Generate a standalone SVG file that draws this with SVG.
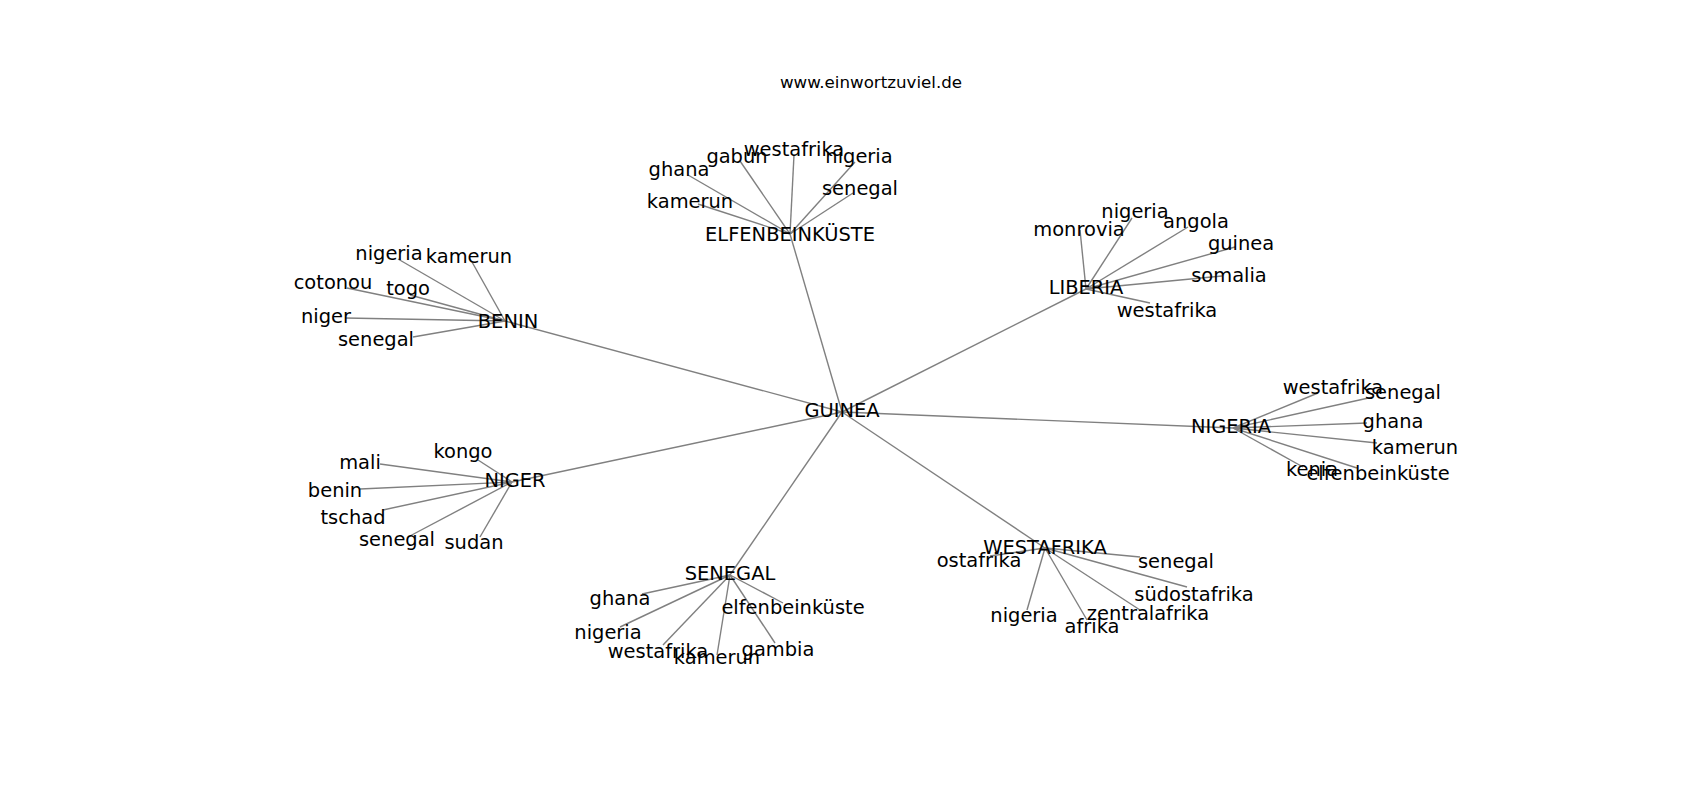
<svg xmlns="http://www.w3.org/2000/svg" width="1700" height="800" viewBox="0 0 1700 800">
<style>
.e{stroke:#808080;stroke-width:1.4;fill:none}
text{font-family:"DejaVu Sans",sans-serif;font-size:19.44px;fill:#000;text-anchor:middle}
.t{font-size:16.67px}
</style>
<rect width="1700" height="800" fill="#fff"/>
<text class="t" x="871" y="88">www.einwortzuviel.de</text>
<g id="edges">
<line class="e" x1="842" y1="412" x2="790" y2="234"/>
<line class="e" x1="842" y1="412" x2="505" y2="321"/>
<line class="e" x1="842" y1="412" x2="1086" y2="289"/>
<line class="e" x1="842" y1="412" x2="1233" y2="428"/>
<line class="e" x1="842" y1="412" x2="512" y2="482"/>
<line class="e" x1="842" y1="412" x2="730" y2="575"/>
<line class="e" x1="842" y1="412" x2="1045" y2="548"/>
<line class="e" x1="790" y1="234" x2="688" y2="175"/>
<line class="e" x1="790" y1="234" x2="740" y2="161"/>
<line class="e" x1="790" y1="234" x2="794" y2="155"/>
<line class="e" x1="790" y1="234" x2="855" y2="162"/>
<line class="e" x1="790" y1="234" x2="853" y2="193"/>
<line class="e" x1="790" y1="234" x2="698" y2="204"/>
<line class="e" x1="505" y1="321" x2="398" y2="259"/>
<line class="e" x1="505" y1="321" x2="472" y2="262"/>
<line class="e" x1="505" y1="321" x2="347" y2="288"/>
<line class="e" x1="505" y1="321" x2="410" y2="295"/>
<line class="e" x1="505" y1="321" x2="345" y2="318"/>
<line class="e" x1="505" y1="321" x2="413" y2="337"/>
<line class="e" x1="1086" y1="289" x2="1132" y2="218"/>
<line class="e" x1="1086" y1="289" x2="1080" y2="230"/>
<line class="e" x1="1086" y1="289" x2="1188" y2="227"/>
<line class="e" x1="1086" y1="289" x2="1235" y2="247"/>
<line class="e" x1="1086" y1="289" x2="1222" y2="276"/>
<line class="e" x1="1086" y1="289" x2="1150" y2="303"/>
<line class="e" x1="1233" y1="428" x2="1318" y2="393"/>
<line class="e" x1="1233" y1="428" x2="1373" y2="397"/>
<line class="e" x1="1233" y1="428" x2="1367" y2="423"/>
<line class="e" x1="1233" y1="428" x2="1377" y2="443"/>
<line class="e" x1="1233" y1="428" x2="1303" y2="467"/>
<line class="e" x1="1233" y1="428" x2="1357" y2="468"/>
<line class="e" x1="512" y1="482" x2="478" y2="460"/>
<line class="e" x1="512" y1="482" x2="380" y2="464"/>
<line class="e" x1="512" y1="482" x2="360" y2="489"/>
<line class="e" x1="512" y1="482" x2="383" y2="510"/>
<line class="e" x1="512" y1="482" x2="408" y2="537"/>
<line class="e" x1="512" y1="482" x2="480" y2="537"/>
<line class="e" x1="730" y1="575" x2="642" y2="594"/>
<line class="e" x1="730" y1="575" x2="620" y2="627"/>
<line class="e" x1="730" y1="575" x2="663" y2="645"/>
<line class="e" x1="730" y1="575" x2="717" y2="655"/>
<line class="e" x1="730" y1="575" x2="775" y2="643"/>
<line class="e" x1="730" y1="575" x2="783" y2="603"/>
<line class="e" x1="1045" y1="548" x2="990" y2="556"/>
<line class="e" x1="1045" y1="548" x2="1140" y2="557"/>
<line class="e" x1="1045" y1="548" x2="1187" y2="587"/>
<line class="e" x1="1045" y1="548" x2="1140" y2="610"/>
<line class="e" x1="1045" y1="548" x2="1087" y2="620"/>
<line class="e" x1="1045" y1="548" x2="1027" y2="610"/>
</g>
<g id="n-guinea"><text x="842" y="417">GUINEA</text></g>
<g id="n-elfenbeinkueste"><text x="790" y="241">ELFENBEINKÜSTE</text>
<text x="679" y="176">ghana</text><text x="737" y="163">gabun</text><text x="794" y="156">westafrika</text><text x="859" y="163">nigeria</text><text x="860" y="195">senegal</text><text x="690" y="208">kamerun</text></g>
<g id="n-benin"><text x="508" y="328">BENIN</text>
<text x="389" y="260">nigeria</text><text x="469" y="263">kamerun</text><text x="333" y="289">cotonou</text><text x="408" y="295">togo</text><text x="326" y="323">niger</text><text x="376" y="346">senegal</text></g>
<g id="n-liberia"><text x="1086" y="294">LIBERIA</text>
<text x="1135" y="218">nigeria</text><text x="1079" y="236">monrovia</text><text x="1196" y="228">angola</text><text x="1241" y="250">guinea</text><text x="1229" y="282">somalia</text><text x="1167" y="317">westafrika</text></g>
<g id="n-nigeria"><text x="1231" y="433">NIGERIA</text>
<text x="1333" y="394">westafrika</text><text x="1403" y="399">senegal</text><text x="1393" y="428">ghana</text><text x="1415" y="454">kamerun</text><text x="1312" y="476">kenia</text><text x="1378" y="480">elfenbeinküste</text></g>
<g id="n-niger"><text x="515" y="487">NIGER</text>
<text x="463" y="458">kongo</text><text x="360" y="469">mali</text><text x="335" y="497">benin</text><text x="353" y="524">tschad</text><text x="397" y="546">senegal</text><text x="474" y="549">sudan</text></g>
<g id="n-senegal"><text x="730" y="580">SENEGAL</text>
<text x="620" y="605">ghana</text><text x="608" y="639">nigeria</text><text x="658" y="658">westafrika</text><text x="717" y="664">kamerun</text><text x="778" y="656">gambia</text><text x="793" y="614">elfenbeinküste</text></g>
<g id="n-westafrika"><text x="1045" y="554">WESTAFRIKA</text>
<text x="979" y="567">ostafrika</text><text x="1176" y="568">senegal</text><text x="1194" y="601">südostafrika</text><text x="1148" y="620">zentralafrika</text><text x="1092" y="633">afrika</text><text x="1024" y="622">nigeria</text></g>
</svg>
